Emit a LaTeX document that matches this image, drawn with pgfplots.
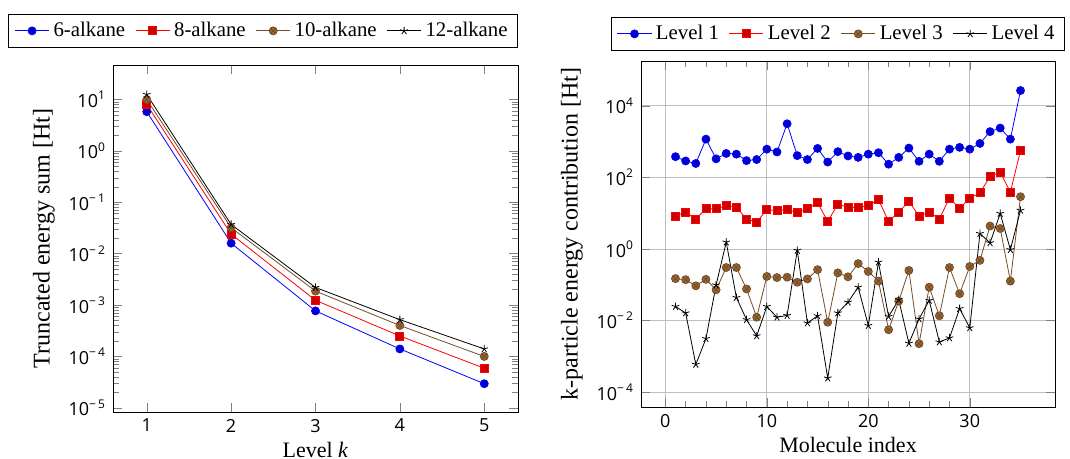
\documentclass[border=0pt]{standalone}
\usepackage{fontspec}
\setmainfont{Liberation Serif}
\setsansfont{Open Sans}
\usepackage{pgfplots}
\pgfplotsset{compat=1.18}

% shared look of both panels
\pgfplotsset{
  panel/.style={
    scale only axis,
    anchor=south west,
    tick label style={font=\sffamily\fontsize{9}{10}\selectfont},
    /pgf/number format/assume math mode=true,
    xlabel style={font=\fontsize{11}{12}\selectfont, yshift=2pt},
    ylabel style={font=\fontsize{12}{13}\selectfont},
    legend columns=-1,
    legend style={font=\fontsize{10.4}{12}\selectfont, anchor=south east,
      /tikz/every even column/.append style={column sep=3pt}},
  },
}
\newcommand{\tenp}[1]{10\textsuperscript{#1}}

\begin{document}
\begin{tikzpicture}
\path[use as bounding box] (0,0) rectangle (535pt,229.5pt);

% left panel: truncated energy sum per level
\begin{axis}[panel,
  at={(56.5pt,23.5pt)},
  width=202.5pt, height=173.5pt,
  ymode=log,
  xmin=0.6, xmax=5.4,
  ymin=8.3e-6, ymax=47,
  xtick={1,2,3,4,5},
  ytick={1e-5,1e-4,1e-3,1e-2,1e-1,1,10},
  yticklabels={\tenp{−\,5},\tenp{−\,4},\tenp{−\,3},\tenp{−\,2},\tenp{−\,1},\tenp{0},\tenp{1}},
  xlabel={Level \textit{k}},
  ylabel={Truncated energy sum [Ht]},
  legend style={at={(1,1)}, yshift=8.5pt},
]
\addplot coordinates {(1,5.8) (2,0.016) (3,7.7e-4) (4,1.4e-4) (5,2.95e-5)};
\addplot coordinates {(1,8.0) (2,0.024) (3,1.24e-3) (4,2.5e-4) (5,5.9e-5)};
\addplot coordinates {(1,10.0) (2,0.032) (3,1.87e-3) (4,4.0e-4) (5,1.0e-4)};
\addplot coordinates {(1,12.5) (2,0.037) (3,2.2e-3) (4,5.2e-4) (5,1.4e-4)};
\legend{6-alkane, 8-alkane, 10-alkane, 12-alkane}
\end{axis}

% right panel: k-particle contributions per molecule
\begin{axis}[panel,
  at={(320.5pt,26pt)},
  width=207pt, height=173pt,
  ymode=log,
  xmin=-2.4, xmax=38.4,
  ymin=3.8e-5, ymax=1.8e5,
  xtick={0,10,20,30},
  minor x tick num=4,
  ytick={1e-4,1e-2,1,1e2,1e4},
  yticklabels={\tenp{−\,4},\tenp{−\,2},\tenp{0},\tenp{2},\tenp{4}},
  yminorticks=false,
  grid=major,
  xlabel={Molecule index},
  ylabel={k-particle energy contribution [Ht]},
  legend style={at={(1,1)}, xshift=5pt, yshift=5pt},
]
\addplot coordinates {
  (1,380) (2,288) (3,245) (4,1175) (5,331) (6,468) (7,447) (8,295) (9,316)
  (10,617) (11,513) (12,3162) (13,407) (14,316) (15,646) (16,269) (17,525)
  (18,398) (19,363) (20,447) (21,490) (22,234) (23,363) (24,661) (25,282)
  (26,447) (27,282) (28,617) (29,692) (30,617) (31,891) (32,1905) (33,2399)
  (34,1175) (35,26900)};
\addplot coordinates {
  (1,8.3) (2,10.7) (3,6.9) (4,13.2) (5,13.2) (6,16.2) (7,14.5) (8,6.9) (9,5.6)
  (10,12.6) (11,11.7) (12,12.9) (13,10.2) (14,13.2) (15,19.5) (16,5.9) (17,17.8)
  (18,14.5) (19,14.5) (20,16.2) (21,24.0) (22,5.9) (23,10.7) (24,21.4) (25,8.3)
  (26,10.7) (27,6.9) (28,26.3) (29,13.8) (30,26.3) (31,37.2) (32,105) (33,141)
  (34,38.9) (35,562)};
\addplot coordinates {
  (1,0.148) (2,0.138) (3,0.093) (4,0.141) (5,0.072) (6,0.302) (7,0.302) (8,0.076)
  (9,0.0123) (10,0.170) (11,0.158) (12,0.162) (13,0.117) (14,0.145) (15,0.263)
  (16,0.0089) (17,0.214) (18,0.166) (19,0.389) (20,0.234) (21,0.126) (22,0.0055)
  (23,0.0347) (24,0.251) (25,0.00224) (26,0.085) (27,0.0135) (28,0.302) (29,0.056)
  (30,0.324) (31,0.479) (32,4.37) (33,3.72) (34,0.126) (35,28.8)};
\addplot coordinates {
  (1,0.0245) (2,0.0162) (3,0.00059) (4,0.0031) (5,0.098) (6,1.55) (7,0.0437)
  (8,0.0105) (9,0.0037) (10,0.0245) (11,0.0123) (12,0.0138) (13,0.912) (14,0.0085)
  (15,0.0135) (16,0.000245) (17,0.0162) (18,0.0324) (19,0.085) (20,0.0072)
  (21,0.427) (22,0.0129) (23,0.038) (24,0.00229) (25,0.011) (26,0.0363) (27,0.0025)
  (28,0.00324) (29,0.0214) (30,0.0062) (31,2.69) (32,1.48) (33,9.8) (34,0.955)
  (35,12.0)};
\legend{Level 1, Level 2, Level 3, Level 4}
\end{axis}
\end{tikzpicture}
\end{document}
